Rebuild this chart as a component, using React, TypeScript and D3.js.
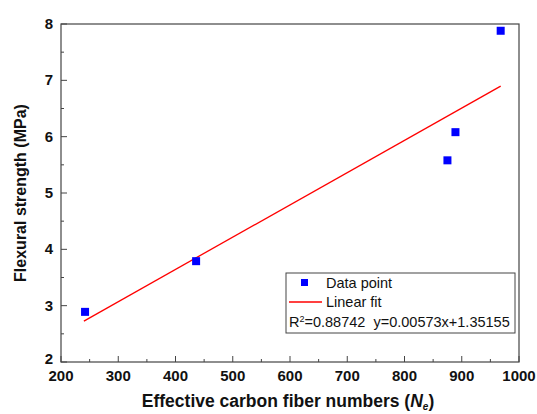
import React, { useEffect, useRef } from "react";
import * as d3 from "d3";

const fiberNumbers = [242, 436, 875, 889, 968];
const strengths = [2.89, 3.79, 5.58, 6.08, 7.88];
const xTicks = [200, 300, 400, 500, 600, 700, 800, 900, 1000];
const yTicks = [2, 3, 4, 5, 6, 7, 8];
const fitSlope = 0.00573;
const fitIntercept = 1.35155;
const fitRange = [240, 968];

const W = 537;
const H = 414;
const margin = { top: 24, right: 18, bottom: 52, left: 61 };

const App = () => {
  const svgRef = useRef<SVGSVGElement>(null);

  useEffect(() => {
    const svg = d3.select(svgRef.current);
    svg.selectAll("*").remove();

    const x = d3.scaleLinear().domain([200, 1000]).range([margin.left, W - margin.right]);
    const y = d3.scaleLinear().domain([2, 8]).range([H - margin.bottom, margin.top]);
    const font = "'Liberation Sans', Arial, sans-serif";
    const axisColor = "#444";

    // frame
    svg
      .append("rect")
      .attr("x", x(200))
      .attr("y", y(8))
      .attr("width", x(1000) - x(200))
      .attr("height", y(2) - y(8))
      .attr("fill", "none")
      .attr("stroke", axisColor)
      .attr("stroke-width", 1.2);

    // x axis ticks (inward)
    const xMinor = d3.range(250, 1000, 100);
    svg
      .append("g")
      .selectAll("line")
      .data(xTicks)
      .join("line")
      .attr("x1", d => x(d))
      .attr("x2", d => x(d))
      .attr("y1", y(2))
      .attr("y2", y(2) - 6)
      .attr("stroke", axisColor);
    svg
      .append("g")
      .selectAll("line")
      .data(xMinor)
      .join("line")
      .attr("x1", d => x(d))
      .attr("x2", d => x(d))
      .attr("y1", y(2))
      .attr("y2", y(2) - 3)
      .attr("stroke", axisColor);
    svg
      .append("g")
      .selectAll("text")
      .data(xTicks)
      .join("text")
      .attr("x", d => x(d))
      .attr("y", y(2) + 19)
      .attr("text-anchor", "middle")
      .attr("font-family", font)
      .attr("font-weight", "bold")
      .attr("font-size", 15)
      .attr("fill", "#111")
      .text(d => d);

    // y axis ticks
    const yMinor = d3.range(2.5, 8, 1);
    svg
      .append("g")
      .selectAll("line")
      .data(yTicks)
      .join("line")
      .attr("x1", x(200))
      .attr("x2", x(200) + 6)
      .attr("y1", d => y(d))
      .attr("y2", d => y(d))
      .attr("stroke", axisColor);
    svg
      .append("g")
      .selectAll("line")
      .data(yMinor)
      .join("line")
      .attr("x1", x(200))
      .attr("x2", x(200) + 3)
      .attr("y1", d => y(d))
      .attr("y2", d => y(d))
      .attr("stroke", axisColor);
    svg
      .append("g")
      .selectAll("text")
      .data(yTicks)
      .join("text")
      .attr("x", x(200) - 8)
      .attr("y", d => (d === 2 ? y(d) + 2 : y(d) + 5))
      .attr("text-anchor", "end")
      .attr("font-family", font)
      .attr("font-weight", "bold")
      .attr("font-size", 15)
      .attr("fill", "#111")
      .text(d => d);

    // axis titles
    const xt = svg
      .append("text")
      .attr("x", 288)
      .attr("y", 407)
      .attr("text-anchor", "middle")
      .attr("font-family", font)
      .attr("font-weight", "bold")
      .attr("font-size", 17.5)
      .attr("fill", "#111");
    xt.append("tspan").text("Effective carbon fiber numbers (");
    xt.append("tspan").attr("font-style", "italic").text("N");
    xt.append("tspan").attr("font-style", "italic").attr("font-size", 10).attr("dy", 3).text("e");
    xt.append("tspan").attr("dy", -3).text(")");

    svg
      .append("text")
      .attr("transform", `translate(26,${(y(2) + y(8)) / 2}) rotate(-90)`)
      .attr("text-anchor", "middle")
      .attr("font-family", font)
      .attr("font-weight", "bold")
      .attr("font-size", 16)
      .attr("fill", "#111")
      .text("Flexural strength (MPa)");

    // fit line
    const line = d3
      .line<number>()
      .x(d => x(d))
      .y(d => y(fitSlope * d + fitIntercept));
    svg
      .append("path")
      .datum(fitRange)
      .attr("d", line)
      .attr("fill", "none")
      .attr("stroke", "#ff0000")
      .attr("stroke-width", 1.3);

    // points
    const s = 8;
    svg
      .append("g")
      .selectAll("rect")
      .data(fiberNumbers)
      .join("rect")
      .attr("x", d => x(d) - s / 2)
      .attr("y", (d, i) => y(strengths[i]) - s / 2)
      .attr("width", s)
      .attr("height", s)
      .attr("fill", "#0000ff");

    // legend
    const lg = svg.append("g").attr("font-family", font).attr("font-size", 14.5).attr("fill", "#111");
    lg.append("rect")
      .attr("x", 286)
      .attr("y", 273)
      .attr("width", 229)
      .attr("height", 60)
      .attr("fill", "white")
      .attr("stroke", axisColor)
      .attr("stroke-width", 1);
    lg.append("rect").attr("x", 301).attr("y", 279).attr("width", 7).attr("height", 7).attr("fill", "#0000ff");
    lg.append("text").attr("x", 326).attr("y", 288).text("Data point");
    lg.append("line")
      .attr("x1", 289)
      .attr("x2", 322)
      .attr("y1", 302)
      .attr("y2", 302)
      .attr("stroke", "#ff0000")
      .attr("stroke-width", 1.3);
    lg.append("text").attr("x", 326).attr("y", 307).text("Linear fit");
    const r = lg.append("text").attr("x", 289).attr("y", 327).style("white-space", "pre");
    r.append("tspan").text("R");
    r.append("tspan").attr("font-size", 9).attr("dy", -5).text("2");
    r.append("tspan").attr("dy", 5).text("=0.88742  y=0.00573x+1.35155");
  }, []);

  return <svg ref={svgRef} width={W} height={H} style={{ position: "absolute", left: 0, top: 0, background: "white" }} />;
};

export default App;
